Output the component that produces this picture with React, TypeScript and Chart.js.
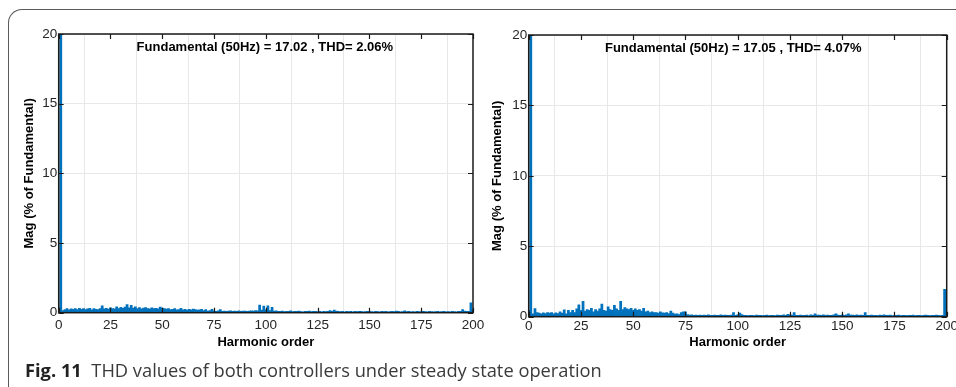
import React, { useEffect, useRef } from 'react';
import { Chart, registerables } from 'chart.js';

Chart.register(...registerables);

// Harmonic magnitude (% of fundamental), harmonic orders 0..200
const leftMag = [
  0.35, 100, 0.15, 0.22, 0.3, 0.2, 0.28, 0.25, 0.3, 0.22,
  0.32, 0.25, 0.3, 0.22, 0.28, 0.32, 0.2, 0.3, 0.25, 0.22,
  0.3, 0.5, 0.28, 0.32, 0.26, 0.35, 0.3, 0.28, 0.42, 0.3,
  0.38, 0.32, 0.4, 0.58, 0.35, 0.52, 0.34, 0.42, 0.3, 0.36,
  0.28, 0.33, 0.36, 0.3, 0.28, 0.35, 0.3, 0.32, 0.28, 0.4,
  0.33, 0.3, 0.26, 0.3, 0.22, 0.25, 0.3, 0.2, 0.22, 0.32,
  0.2, 0.24, 0.18, 0.25, 0.2, 0.26, 0.22, 0.18, 0.2, 0.24,
  0.15, 0.22, 0.12, 0.16, 0.25, 0.12, 0.1, 0.14, 0.22, 0.1,
  0.12,
  0.1, 0.12, 0.14, 0.1, 0.12, 0.09, 0.14, 0.1, 0.12, 0.11,
  0.1, 0.12, 0.14, 0.12, 0.16, 0.14, 0.55, 0.18, 0.48, 0.2,
  0.5, 0.16, 0.38, 0.12, 0.14, 0.1, 0.09, 0.12, 0.08, 0.1,
  0.1, 0.14, 0.08, 0.1, 0.09, 0.12, 0.08, 0.07, 0.1, 0.09,
  0.12, 0.08, 0.09, 0.1, 0.08, 0.09, 0.07, 0.1, 0.08, 0.09,
  0.16, 0.1, 0.18, 0.12, 0.09, 0.08, 0.1, 0.07, 0.09, 0.08,
  0.09, 0.07, 0.1, 0.08, 0.09, 0.1, 0.07, 0.08, 0.09, 0.1,
  0.08, 0.07, 0.09, 0.08, 0.07, 0.09, 0.08, 0.1, 0.07, 0.08,
  0.09, 0.08, 0.12, 0.09, 0.07, 0.08, 0.14, 0.08, 0.09, 0.07,
  0.08, 0.07, 0.09, 0.08, 0.07, 0.09, 0.08, 0.07, 0.09, 0.08,
  0.07, 0.08, 0.09, 0.07, 0.08, 0.09, 0.07, 0.08, 0.07, 0.09,
  0.08, 0.07, 0.09, 0.1, 0.22, 0.12, 0.09, 0.1, 0.7, 0.2,
];

const rightMag = [
  0.45, 100, 0.2, 0.57, 0.3, 0.25, 0.2, 0.28, 0.22, 0.3,
  0.25, 0.3, 0.2, 0.28, 0.22, 0.35, 0.25, 0.48, 0.2, 0.45,
  0.3, 0.45, 0.3, 0.55, 0.85, 0.45, 1.1, 0.4, 0.5, 0.45,
  0.6, 0.35, 0.5, 0.4, 0.55, 0.9, 0.45, 0.4, 0.7, 0.5,
  0.45, 0.8, 0.55, 0.45, 1.1, 0.5, 0.65, 0.55, 0.5, 0.6,
  0.45, 0.55, 0.45, 0.5, 0.4, 0.6, 0.35, 0.4, 0.3, 0.35,
  0.3, 0.3, 0.25, 0.35, 0.28, 0.25, 0.3, 0.22, 0.4, 0.25,
  0.18, 0.2, 0.15, 0.3, 0.35, 0.35, 0.15, 0.12, 0.14, 0.1,
  0.12,
  0.1, 0.12, 0.09, 0.12, 0.1, 0.14, 0.09, 0.1, 0.12, 0.09,
  0.1, 0.14, 0.09, 0.12, 0.1, 0.09, 0.12, 0.3, 0.1, 0.14,
  0.25, 0.15, 0.09, 0.1, 0.08, 0.09, 0.1, 0.08, 0.12, 0.09,
  0.1, 0.08, 0.09, 0.12, 0.08, 0.1, 0.09, 0.08, 0.12, 0.1,
  0.09, 0.14, 0.1, 0.16, 0.14, 0.12, 0.3, 0.1, 0.09, 0.12,
  0.1, 0.09, 0.12, 0.08, 0.14, 0.1, 0.2, 0.12, 0.12, 0.1,
  0.14, 0.09, 0.12, 0.1, 0.09, 0.14, 0.2, 0.12, 0.09, 0.14,
  0.1, 0.14, 0.2, 0.12, 0.12, 0.1, 0.14, 0.09, 0.12, 0.1,
  0.3, 0.09, 0.1, 0.12, 0.09, 0.1, 0.08, 0.12, 0.09, 0.14,
  0.1, 0.09, 0.12, 0.08, 0.1, 0.09, 0.12, 0.08, 0.1, 0.09,
  0.08, 0.1, 0.09, 0.12, 0.08, 0.09, 0.1, 0.08, 0.09, 0.12,
  0.1, 0.08, 0.09, 0.1, 0.12, 0.09, 0.08, 0.1, 1.95, 0.3,
];

const harmonicOrder = leftMag.map((_, i) => i);

const xMin = 0;
const xMax = 200;
const xStep = 25;
const yMin = 0;
const yMax = 20;
const yStep = 5;

const leftTitle = 'Fundamental (50Hz) = 17.02 , THD= 2.06%';
const rightTitle = 'Fundamental (50Hz) = 17.05 , THD= 4.07%';
const xTitle = 'Harmonic order';
const yTitle = 'Mag (% of Fundamental)';

const FONT = '"Liberation Sans", Arial, Helvetica, sans-serif';

const framePlugin = {
  id: 'matlabFrame',
  afterDatasetsDraw(chart: any, _args: any, opts: any) {
    const { ctx, chartArea: a, scales } = chart;
    const x = scales.x;
    const y = scales.y;
    ctx.save();
    ctx.strokeStyle = '#1a1a1a';
    ctx.lineWidth = 1.2;
    ctx.beginPath();
    x.ticks.forEach((t: any) => {
      const px = Math.round(x.getPixelForValue(t.value)) + 0.5;
      ctx.moveTo(px, a.bottom);
      ctx.lineTo(px, a.bottom - 5);
      ctx.moveTo(px, a.top);
      ctx.lineTo(px, a.top + 5);
    });
    y.ticks.forEach((t: any) => {
      const py = Math.round(y.getPixelForValue(t.value)) + 0.5;
      ctx.moveTo(a.left, py);
      ctx.lineTo(a.left + 5, py);
      ctx.moveTo(a.right, py);
      ctx.lineTo(a.right - 5, py);
    });
    ctx.stroke();
    ctx.lineWidth = 1.5;
    ctx.strokeRect(a.left, a.top, a.right - a.left, a.bottom - a.top);
    ctx.font = 'bold 13px ' + FONT;
    ctx.fillStyle = '#000';
    ctx.textAlign = 'center';
    ctx.textBaseline = 'alphabetic';
    ctx.fillText(opts.text, (a.left + a.right) / 2 + (opts.dx || 0), a.top + 17);
    ctx.restore();
  },
};

type Cfg = {
  values: number[];
  title: string;
  dx: number;
  padLeft: number;
  yWidth: number;
  yTitlePad: number;
  padTop: number;
  padRight: number;
  padBottom: number;
  xTickPad: number;
  xTitlePad: number;
  width: number;
};

function Spectrum({ cfg }: { cfg: Cfg }) {
  const ref = useRef<HTMLCanvasElement>(null);
  useEffect(() => {
    if (!ref.current) return;
    const chart = new Chart(ref.current, {
      type: 'bar',
      data: {
        datasets: [
          {
            data: cfg.values.map((v, i) => ({ x: harmonicOrder[i], y: v })),
            backgroundColor: '#0072BD',
            borderWidth: 0,
            barPercentage: 1,
            categoryPercentage: 1,
          } as any,
        ],
      },
      options: {
        animation: false,
        responsive: false,
        maintainAspectRatio: false,
        layout: {
          padding: { left: cfg.padLeft, top: cfg.padTop, right: cfg.padRight, bottom: cfg.padBottom },
        },
        plugins: {
          legend: { display: false },
          tooltip: { enabled: false },
          matlabFrame: { text: cfg.title, dx: cfg.dx },
        } as any,
        scales: {
          x: {
            type: 'linear',
            min: xMin,
            max: xMax,
            offset: false,
            border: { display: false },
            grid: { color: '#e8e8e8', drawTicks: false, lineWidth: 1 },
            ticks: {
              stepSize: xStep,
              padding: cfg.xTickPad,
              color: '#262626',
              font: { family: FONT, size: 13.5 },
              maxRotation: 0,
              autoSkip: false,
            },
            title: {
              display: true,
              text: xTitle,
              color: '#000',
              font: { family: FONT, size: 13, weight: 'bold' },
              padding: { top: 0, bottom: cfg.xTitlePad },
            },
            afterFit: (s: any) => {
              s.height = 40;
            },
          },
          y: {
            min: yMin,
            max: yMax,
            border: { display: false },
            grid: { color: '#e8e8e8', drawTicks: false, lineWidth: 1 },
            ticks: {
              stepSize: yStep,
              padding: 1.5,
              color: '#262626',
              font: { family: FONT, size: 13.5 },
            },
            title: {
              display: true,
              text: yTitle,
              color: '#000',
              font: { family: FONT, size: 13, weight: 'bold' },
              padding: { top: cfg.yTitlePad, bottom: 0 },
            },
            afterFit: (s: any) => {
              s.width = cfg.yWidth;
            },
          },
        },
      } as any,
      plugins: [framePlugin as any],
    });
    return () => chart.destroy();
  }, [cfg]);
  return <canvas ref={ref} width={cfg.width} height={387} style={{ width: cfg.width, height: 387, display: 'block' }} />;
}

const leftCfg: Cfg = {
  values: leftMag,
  title: leftTitle,
  dx: -1,
  padLeft: 15,
  yWidth: 43.7,
  yTitlePad: 6.4,
  padTop: 34,
  padRight: 22,
  padBottom: 34.3,
  xTickPad: 4.8,
  xTitlePad: 2.9,
  width: 495,
};

const rightCfg: Cfg = {
  values: rightMag,
  title: rightTitle,
  dx: -4.5,
  padLeft: 3,
  yWidth: 45.7,
  yTitlePad: 6.2,
  padTop: 35,
  padRight: 23.3,
  padBottom: 30.3,
  xTickPad: 1.2,
  xTitlePad: 6.6,
  width: 490,
};

export default function App() {
  return (
    <div
      style={{
        position: 'absolute',
        left: 0,
        top: 0,
        width: 956,
        height: 387,
        overflow: 'hidden',
        background: '#fff',
      }}
    >
      <div
        style={{
          position: 'absolute',
          left: 8,
          top: 9,
          width: 1000,
          height: 500,
          borderTop: '1.5px solid #5a5a5a',
          borderLeft: '1.5px solid #5a5a5a',
          borderTopLeftRadius: 14,
          boxSizing: 'border-box',
        }}
      />
      <div style={{ position: 'absolute', left: 0, top: 0 }}>
        <Spectrum cfg={leftCfg} />
      </div>
      <div style={{ position: 'absolute', left: 480, top: 0 }}>
        <Spectrum cfg={rightCfg} />
      </div>
      <div
        style={{
          position: 'absolute',
          left: 25,
          top: 359,
          whiteSpace: 'nowrap',
          fontFamily: '"Open Sans", "Noto Sans", sans-serif',
          fontSize: 18.3,
          lineHeight: '22px',
          color: '#3a3a3a',
        }}
      >
        <span style={{ fontWeight: 700, color: '#222' }}>Fig. 11</span>
        <span>{'\u00a0\u00a0THD values of both controllers under steady state operation'}</span>
      </div>
    </div>
  );
}
